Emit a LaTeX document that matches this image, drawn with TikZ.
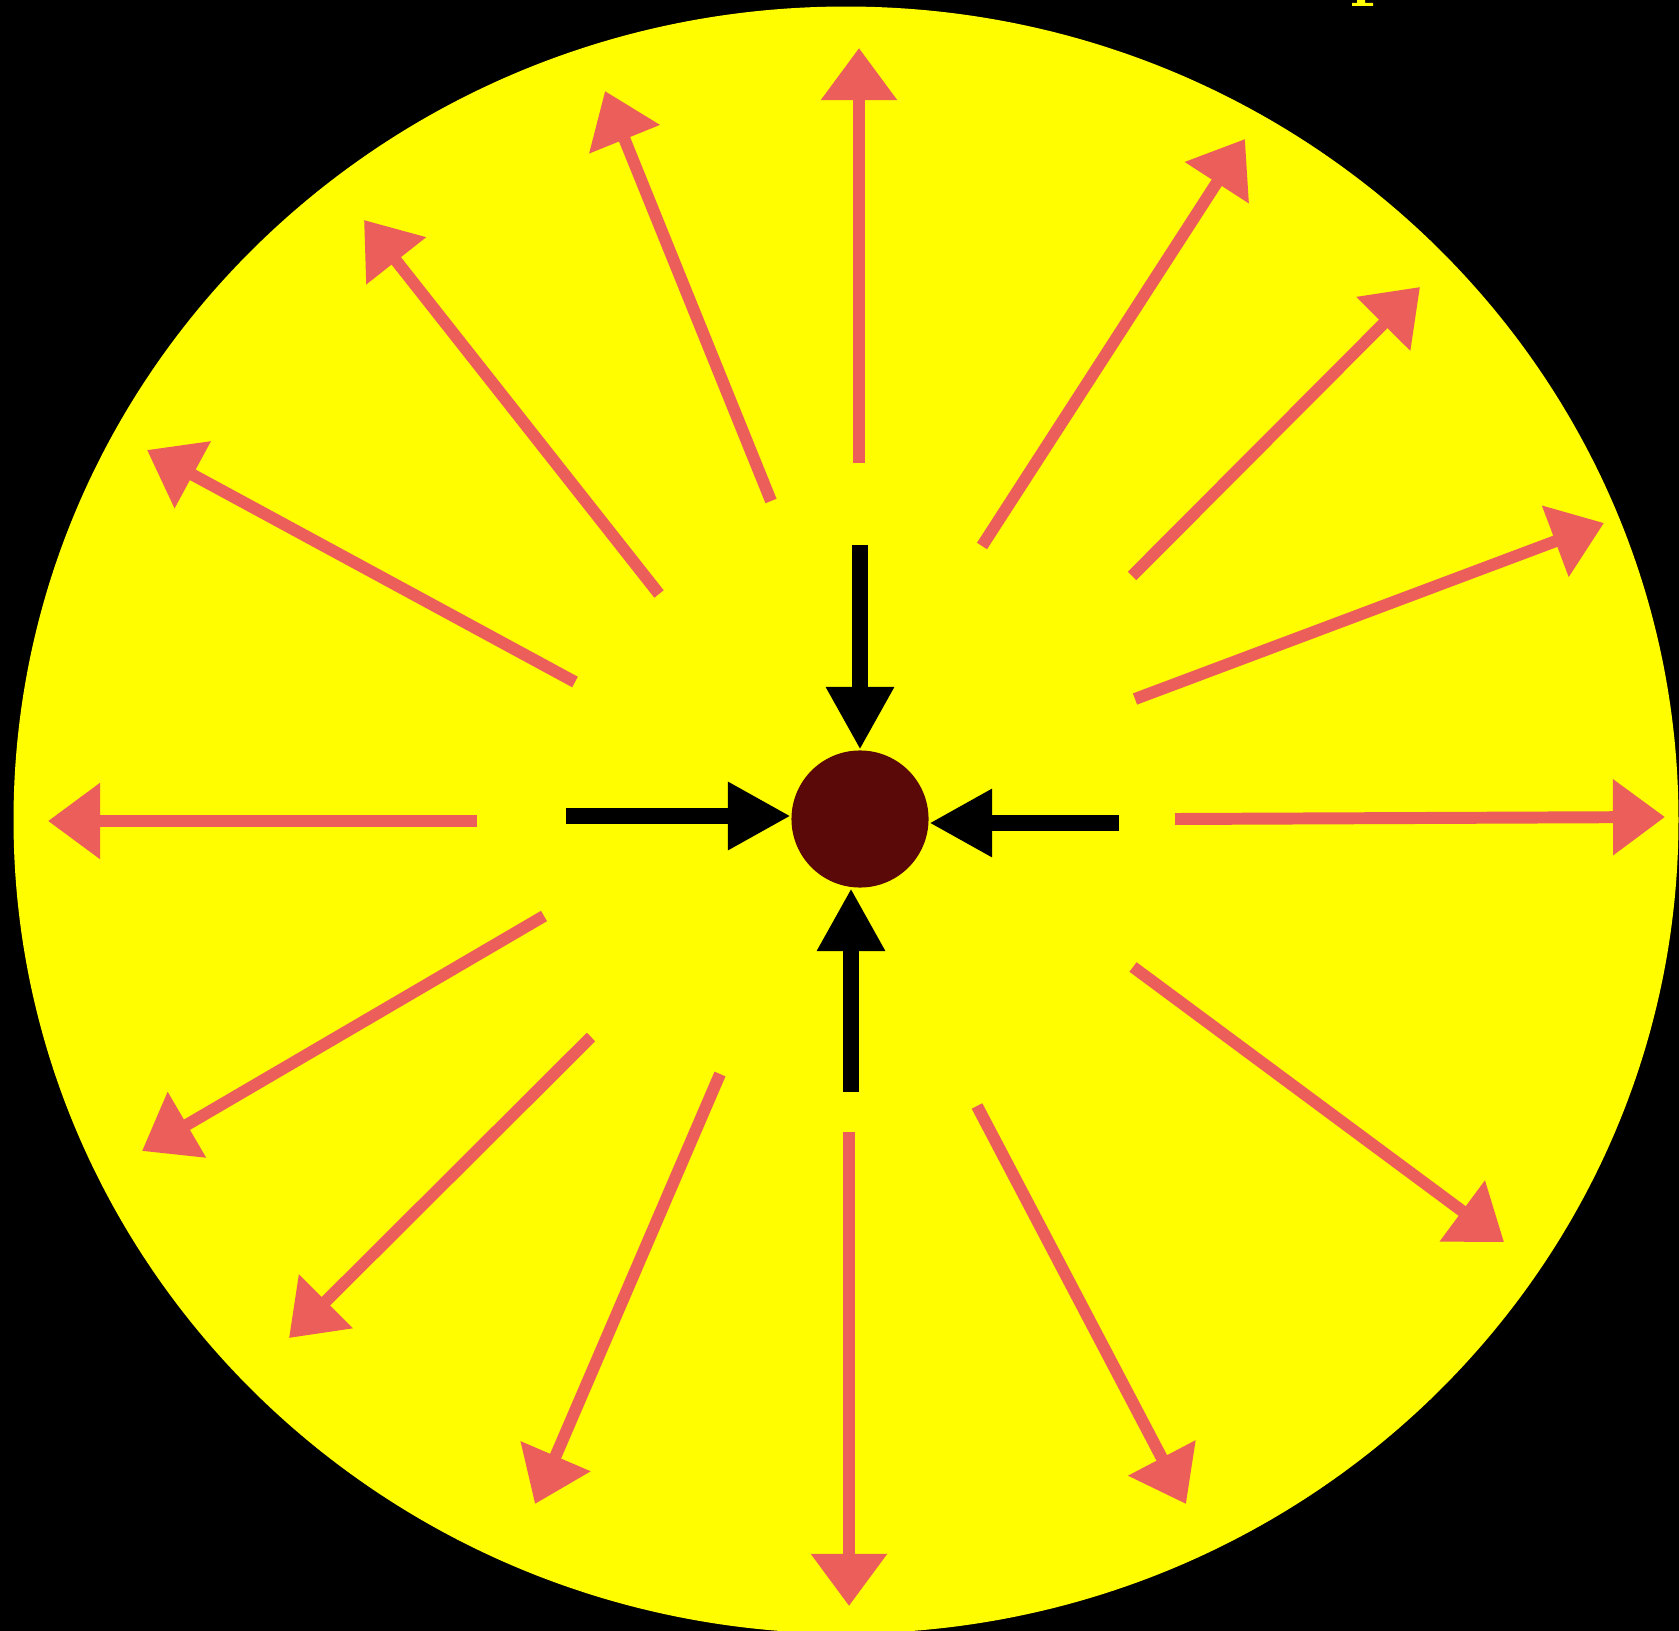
\documentclass[tikz,border=0pt]{standalone}
\usetikzlibrary{arrows.meta}

\definecolor{sunyellow}{RGB}{255,253,0}
\definecolor{rayred}{RGB}{236,94,90}
\definecolor{coredark}{RGB}{90,8,8}

\begin{document}
\begin{tikzpicture}[x=0.01cm, y=-0.01cm,
    ray/.style={rayred, line width=3.4pt, -{Triangle[length=14.8pt, width=20.8pt]}},
    push/.style={black, line width=4.6pt, -{Triangle[length=17.9pt, width=18.2pt]}}]
  % Background and star
  \clip (0,0) rectangle (1679,1631);
  \fill[black] (0,0) rectangle (1679,1631);
  \fill[sunyellow] (846,820) ellipse [x radius=8.32cm, y radius=8.13cm];
  \fill[sunyellow] (1357,0) -- (1365,0) -- (1365,3) -- (1373,3) -- (1373,6)
    -- (1352,6) -- (1352,3) -- (1357,3) -- cycle;

  % Core
  \node[circle, fill=coredark, minimum size=1.37cm, inner sep=0pt] (core) at (860,819) {};

  % Outward rays
  \foreach \tx/\ty/\hx/\hy in {859/463/859/48, 771/501/605/91, 659/594/364/220,
      575/682/147/450, 477/821/48/821, 544/916/142/1151, 591/1037/289/1338,
      720/1074/535/1504, 849/1132/849/1606, 977/1106/1186/1504,
      1133/967/1504/1242, 1175/819/1665/817, 1135/699/1604/523,
      1132/576/1420/287, 982/546/1245/139}
    \draw[ray] (\tx,\ty) -- (\hx,\hy);

  % Inward push
  \coordinate (pt) at (860,545);
  \coordinate (pl) at (566,816);
  \coordinate (pr) at (1119,823);
  \coordinate (pb) at (851,1092);
  \draw[push] (pt) -- (pt |- core.north);
  \draw[push] (pl) -- (pl -| core.west);
  \draw[push] (pr) -- (pr -| core.east);
  \draw[push] (pb) -- (pb |- core.south);
\end{tikzpicture}
\end{document}
